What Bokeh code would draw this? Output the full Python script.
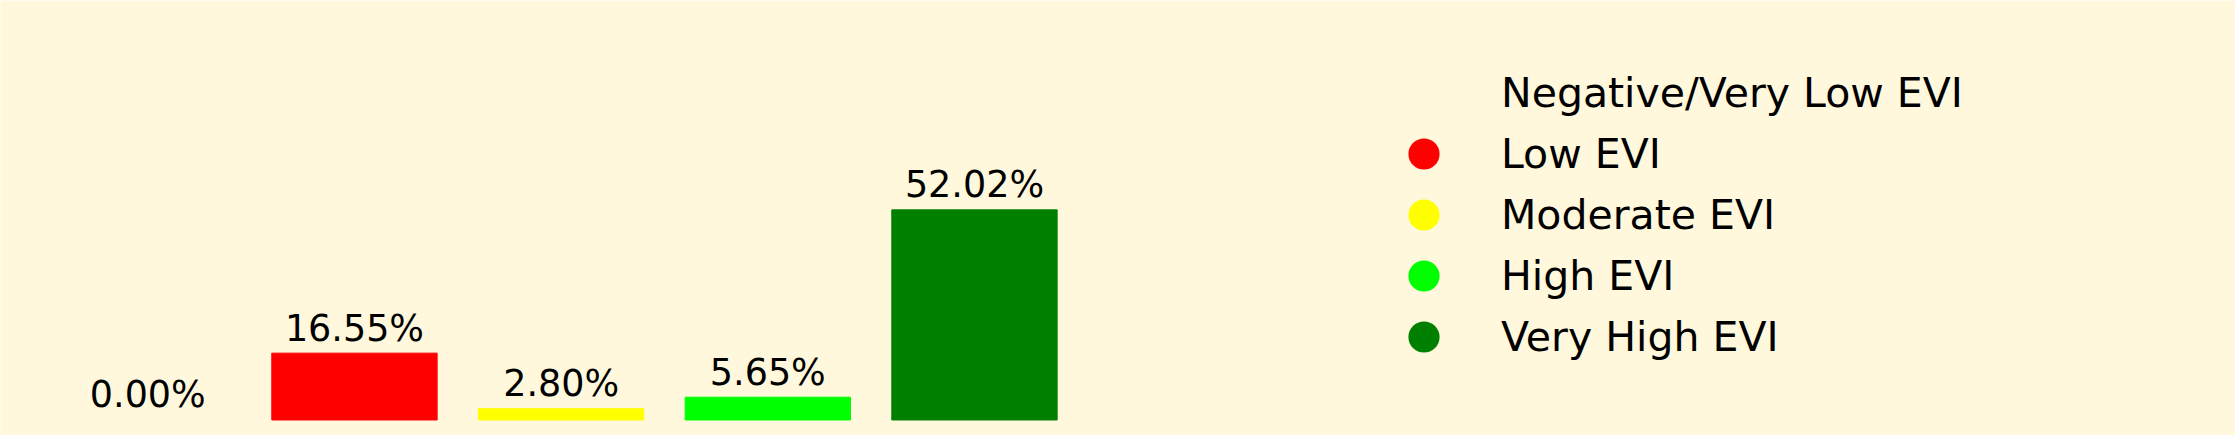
from bokeh.plotting import figure
from bokeh.models import ColumnDataSource, Legend, LegendItem, Range1d
from bokeh.core.properties import value
from bokeh.embed import file_html
from bokeh.resources import INLINE

categories = ["Negative/Very Low EVI", "Low EVI", "Moderate EVI", "High EVI", "Very High EVI"]
percentages = [0.00, 16.55, 2.80, 5.65, 52.02]
colors = ["#fff8dc", "#ff0000", "#ffff00", "#00ff00", "#008000"]
labels = [f"{v:.2f}%" for v in percentages]

BG = "#fff8dc"
FONT = "DejaVu Sans"

xs = list(range(len(categories)))
src = ColumnDataSource(dict(
    x=xs, top=percentages, mid=[v / 2 for v in percentages], color=colors, label=labels,
    alpha=[0.0 if v == 0 else 1.0 for v in percentages],
))

p = figure(width=2235, height=435, output_backend="svg", toolbar_location=None,
           x_range=Range1d(-0.7127, 10.1016), y_range=Range1d(-3.837, 103.837),
           x_axis_location=None, y_axis_location=None, min_border=0)
p.background_fill_color = BG
p.border_fill_color = BG
p.outline_line_color = None
p.grid.visible = False

# legend markers (drawn underneath the bars, size 0 in the plot)
markers = p.scatter(x="x", y="mid", source=src, marker="circle", size=0,
                    fill_color="color", line_color="color", line_width=6.8,
                    fill_alpha="alpha", line_alpha="alpha")

p.vbar(x="x", top="top", bottom=0, width=0.8, color="color", source=src)
p.text(x="x", y="top", text="label", source=src, text_align="center",
       text_baseline="alphabetic", y_offset=-25, text_font=value(FONT),
       text_font_size="36.5px", text_color="black")

items = [LegendItem(label=cat, renderers=[markers], index=i) for i, cat in enumerate(categories)]

legend = Legend(items=items, location=(1393, 68), orientation="vertical",
                glyph_width=61, glyph_height=61, spacing=0, label_standoff=47,
                padding=0, margin=0, border_line_color=None, background_fill_alpha=0,
                label_text_font=FONT, label_text_font_size="41px",
                label_text_baseline="middle", label_text_color="black")
p.add_layout(legend, "center")

html = file_html(p, INLINE)
html = html.replace("<body>", '<body style="background-color:#fff8dc;">', 1)
open("out.html", "w").write(html)
